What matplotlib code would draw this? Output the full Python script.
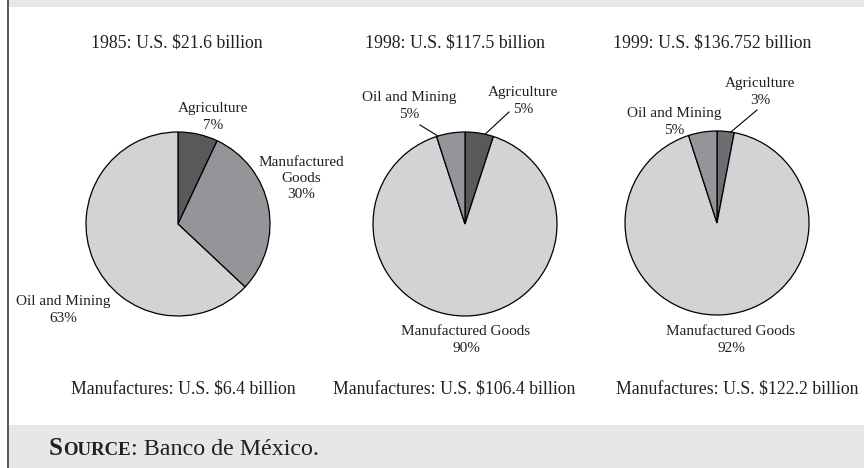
import matplotlib.pyplot as plt
from matplotlib.patches import Rectangle
import numpy as np

# Export composition shares (%), by year
years = ['1985', '1998', '1999']
totals = ['$21.6', '$117.5', '$136.752']
manufactures = ['$6.4', '$106.4', '$122.2']
agriculture = [7, 5, 3]
manufactured_goods = [30, 90, 92]
oil_and_mining = [63, 5, 5]

LIGHT = '#d1d3d4'
MID = '#939598'
DARK = '#58595b'
BAND = '#e6e7e8'
W, H = 864, 468

plt.rcParams['font.family'] = ['Liberation Serif', 'DejaVu Serif']

fig = plt.figure(figsize=(W / 100, H / 100), dpi=100)
ax = fig.add_axes([0, 0, 1, 1])

def Y(y):
    # image-style y (down) to axes y (up)
    return H - y

# grey bands and left rule
ax.add_patch(Rectangle((9, Y(7)), W, 7, color=BAND, lw=0, zorder=0))
ax.add_patch(Rectangle((9, 0), W, H - 425, color=BAND, lw=0, zorder=0))
ax.add_patch(Rectangle((7, 0), 2.2, H, color='#58595b', lw=0, zorder=0))

centers = [(178, 224), (465, 224), (717, 223)]
title_x = [177, 455, 712]
bottom_x = [183, 454, 737]
radius = 92
txt = dict(ha='center', va='center', color='#231f20')

wedge_sets = []
for i in range(3):
    cx, cy = centers[i]
    vals = [agriculture[i], manufactured_goods[i], oil_and_mining[i]]
    if i == 0:
        cols = [DARK, MID, LIGHT]
    else:
        cols = [DARK if i == 1 else '#6d6e71', LIGHT, MID]
    wedges, _ = ax.pie(vals, colors=cols, startangle=90, counterclock=False,
                       center=(cx, Y(cy)), radius=radius,
                       wedgeprops=dict(edgecolor='black', linewidth=0.9))
    wedge_sets.append(wedges)

    ax.text(title_x[i], Y(43), f'{years[i]}: U.S. {totals[i]} billion', fontsize=12.75, **txt)
    ax.text(bottom_x[i], Y(389), f'Manufactures: U.S. {manufactures[i]} billion',
            fontsize=12.75, **txt)

def edge_point(w, f):
    a = np.radians(w.theta1 + f * (w.theta2 - w.theta1))
    cx, cy = w.center
    return cx + w.r * np.cos(a), cy + w.r * np.sin(a)

lab = 11

# 1985 labels
ax.text(213, Y(117), f'Agriculture\n{agriculture[0]}%', fontsize=lab, linespacing=1.35, **txt)
ax.text(301, Y(179), f'Manufactured\nGoods\n{manufactured_goods[0]}%', fontsize=lab,
        linespacing=1.3, **txt)
ax.text(63, Y(310), f'Oil and Mining\n{oil_and_mining[0]}%', fontsize=lab, linespacing=1.35, **txt)

# 1998 labels
ax.text(409, Y(106), f'Oil and Mining\n{oil_and_mining[1]}%', fontsize=lab, linespacing=1.35, **txt)
ax.text(523, Y(101), f'Agriculture\n{agriculture[1]}%', fontsize=lab, linespacing=1.35, **txt)
ax.text(466, Y(340), f'Manufactured Goods\n{manufactured_goods[1]}%', fontsize=lab,
        linespacing=1.35, **txt)
x1, y1 = edge_point(wedge_sets[1][2], 0.95)
ax.plot([420, x1], [Y(125), y1], color='black', lw=0.8)
x1, y1 = edge_point(wedge_sets[1][0], 0.3)
ax.plot([509, x1], [Y(112), y1], color='black', lw=0.8)

# 1999 labels
ax.text(760, Y(92), f'Agriculture\n{agriculture[2]}%', fontsize=lab, linespacing=1.35, **txt)
ax.text(674, Y(122), f'Oil and Mining\n{oil_and_mining[2]}%', fontsize=lab, linespacing=1.35, **txt)
ax.text(731, Y(340), f'Manufactured Goods\n{manufactured_goods[2]}%', fontsize=lab,
        linespacing=1.35, **txt)
x1, y1 = edge_point(wedge_sets[2][0], 0.2)
ax.plot([757, x1], [Y(110), y1], color='black', lw=0.8)

ax.set_xlim(0, W)
ax.set_ylim(0, H)
ax.set_aspect('auto')
ax.axis('off')

# source line with small caps
fig.canvas.draw()
r = fig.canvas.get_renderer()
x = 49
for s, size, weight in [('S', 18, 'bold'), ('OURCE', 13.5, 'bold'),
                        (': Banco de México.', 17.3, 'normal')]:
    t = ax.text(x, Y(455), s, fontsize=size, fontweight=weight, ha='left', va='baseline',
                color='#231f20')
    x = t.get_window_extent(r).x1

fig.savefig('out.png', dpi=100)
